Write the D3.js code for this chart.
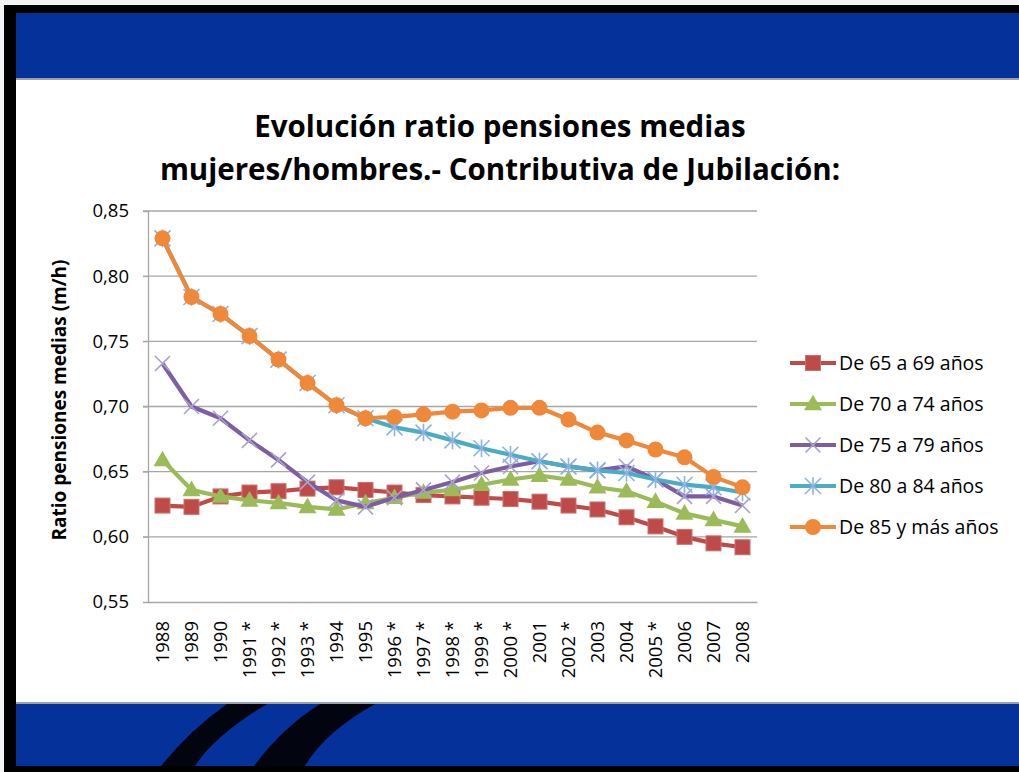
<!DOCTYPE html>
<html><head><meta charset="utf-8">
<script src="https://cdn.jsdelivr.net/npm/d3@7"></script>
<style>html,body{margin:0;padding:0;background:#fff;}svg{display:block;}</style>
</head><body>
<svg id="c" width="1019" height="772"></svg>
<script>
const years = ["1988","1989","1990","1991 *","1992 *","1993 *","1994","1995","1996 *","1997 *","1998 *","1999 *","2000 *","2001","2002 *","2003","2004","2005 *","2006","2007","2008"];
const s6569 = [0.624,0.623,0.631,0.634,0.635,0.637,0.638,0.636,0.634,0.632,0.631,0.630,0.629,0.627,0.624,0.621,0.615,0.608,0.600,0.595,0.592];
const s7074 = [0.659,0.636,0.631,0.628,0.626,0.623,0.621,0.626,0.630,0.634,0.636,0.640,0.644,0.647,0.644,0.638,0.635,0.627,0.618,0.613,0.608];
const s7579 = [0.733,0.700,0.691,0.674,0.659,0.642,0.628,0.623,0.630,0.636,0.642,0.649,0.654,0.658,0.654,0.651,0.654,0.644,0.631,0.631,0.624];
const s8084 = [0.829,0.784,0.771,0.754,0.736,0.718,0.701,0.691,0.684,0.680,0.674,0.668,0.663,0.658,0.654,0.651,0.649,0.644,0.640,0.638,0.634];
const s85 = [0.829,0.784,0.771,0.754,0.736,0.718,0.701,0.691,0.692,0.694,0.696,0.697,0.699,0.699,0.690,0.680,0.674,0.667,0.661,0.646,0.638];
const seriesNames = ["De 65 a 69 años","De 70 a 74 años","De 75 a 79 años","De 80 a 84 años","De 85 y más años"];
const yTicks = [0.55,0.60,0.65,0.70,0.75,0.80,0.85];
const titleLines = ["Evolución ratio pensiones medias","mujeres/hombres.- Contributiva de Jubilación:"];
const yLabel = "Ratio pensiones medias (m/h)";

const series = [
  {name:seriesNames[0], values:s6569, color:"#BE4B48", mark:"square", mcolor:"#BE4B48"},
  {name:seriesNames[1], values:s7074, color:"#9BBB59", mark:"triangle", mcolor:"#9BBB59"},
  {name:seriesNames[2], values:s7579, color:"#7E5DA3", mark:"x", mcolor:"#A9A2CC"},
  {name:seriesNames[3], values:s8084, color:"#4BACC6", mark:"star", mcolor:"#8DB3E2"},
  {name:seriesNames[4], values:s85, color:"#F0883A", mark:"circle", mcolor:"#F0883A"}
];

const svg = d3.select("#c");
const FONT = "'Open Sans', 'Noto Sans', sans-serif";

// slide background
svg.append("rect").attr("x",0).attr("y",0).attr("width",1019).attr("height",772).attr("fill","#f4f4f4");
svg.append("rect").attr("x",4).attr("y",5).attr("width",1015).attr("height",767).attr("fill","#000");
svg.append("rect").attr("x",16).attr("y",13).attr("width",1003).attr("height",65).attr("fill","#04329A");
svg.append("rect").attr("x",16).attr("y",78).attr("width",1003).attr("height",2).attr("fill","#9a9fae");
svg.append("rect").attr("x",16).attr("y",80).attr("width",1003).attr("height",622).attr("fill","#fff");
svg.append("rect").attr("x",16).attr("y",702).attr("width",1003).attr("height",2).attr("fill","#9a9fae");
svg.append("rect").attr("x",16).attr("y",704).attr("width",1003).attr("height",62).attr("fill","#04329A");
// diagonal stripes
svg.append("path").attr("d","M227,704 L267,704 Q215,735 195,766 L161,766 Q190,730 227,704 Z").attr("fill","#02040f");
svg.append("path").attr("d","M320,704 L375,704 Q325,732 305,766 L254,766 Q282,728 320,704 Z").attr("fill","#02040f");

// scales
const x = d3.scaleBand().domain(years).range([148,757]);
const cx = d => x(d) + x.bandwidth()/2;
const y = d3.scaleLinear().domain([0.55,0.85]).range([602,211]);

// gridlines
const g = svg.append("g");
g.selectAll("line.grid").data(yTicks.filter(t=>t>0.55)).join("line")
  .attr("x1",143).attr("x2",757).attr("y1",d=>y(d)).attr("y2",d=>y(d))
  .attr("stroke","#A6A6A6").attr("stroke-width",1.3);

// axes
const yAxis = d3.axisLeft(y).tickValues(yTicks).tickSize(5).tickFormat(d=>d3.format(".2f")(d).replace(".",","));
const ya = svg.append("g").attr("transform","translate(148,0)").call(yAxis);
ya.select(".domain").attr("stroke","#A6A6A6").attr("stroke-width",1.3);
ya.selectAll(".tick line").attr("stroke","#A6A6A6");
ya.selectAll("text").attr("font-family",FONT).attr("font-size",18.5).attr("fill","#000").attr("x",-19);

const xAxis = d3.axisBottom(x).tickSize(0);
const xa = svg.append("g").attr("transform","translate(0,602)").call(xAxis);
xa.select(".domain").attr("stroke","#A6A6A6").attr("stroke-width",1.3);
xa.selectAll("text").attr("font-family",FONT).attr("font-size",18.5).attr("fill","#000")
  .attr("transform","rotate(-90)").attr("text-anchor","end").attr("x",-19).attr("y",0).attr("dy","0.35em");

// markers
function drawMarker(sel, type, color, px, py, size){
  const s = size;
  if(type==="square"){
    sel.append("rect").attr("x",px-s/2).attr("y",py-s/2).attr("width",s).attr("height",s)
      .attr("fill",color).attr("stroke","#c7736f").attr("stroke-width",1);
  } else if(type==="triangle"){
    sel.append("path").attr("d",`M${px},${py-s*0.62} L${px+s*0.6},${py+s*0.42} L${px-s*0.6},${py+s*0.42} Z`)
      .attr("fill",color);
  } else if(type==="circle"){
    sel.append("circle").attr("cx",px).attr("cy",py).attr("r",s/2).attr("fill",color);
  } else if(type==="x"){
    const h=s/2;
    sel.append("path").attr("d",`M${px-h},${py-h} L${px+h},${py+h} M${px-h},${py+h} L${px+h},${py-h}`)
      .attr("stroke",color).attr("stroke-width",1.6).attr("fill","none");
  } else if(type==="star"){
    const h=s/2;
    sel.append("path").attr("d",`M${px-h},${py-h} L${px+h},${py+h} M${px-h},${py+h} L${px+h},${py-h} M${px},${py-h*1.1} L${px},${py+h*1.1}`)
      .attr("stroke",color).attr("stroke-width",1.6).attr("fill","none");
  }
}
const sizes = {square:15, triangle:15, circle:16, x:15, star:16};

const line = d3.line().x((d,i)=>cx(years[i])).y(d=>y(d));
series.forEach(s=>{
  const sg = svg.append("g");
  sg.append("path").datum(s.values).attr("d",line).attr("fill","none")
    .attr("stroke",s.color).attr("stroke-width",4.2).attr("stroke-linejoin","round");
  s.values.forEach((v,i)=>drawMarker(sg, s.mark, s.mcolor, cx(years[i]), y(v), sizes[s.mark]));
});

// legend
const lg = svg.append("g");
series.forEach((s,i)=>{
  const ly = 363 + i*41;
  lg.append("line").attr("x1",790).attr("x2",836).attr("y1",ly).attr("y2",ly)
    .attr("stroke",s.color).attr("stroke-width",4.2);
  drawMarker(lg, s.mark, s.mcolor, 813, ly, sizes[s.mark]);
  lg.append("text").attr("x",839).attr("y",ly).attr("dy","0.35em")
    .attr("font-family",FONT).attr("font-size",19.5).attr("fill","#000").text(s.name);
});

// title
svg.append("g").selectAll("text").data(titleLines).join("text")
  .attr("x",500).attr("y",(d,i)=>137+i*43).attr("text-anchor","middle")
  .attr("font-family",FONT).attr("font-weight","bold").attr("font-size",29.5).attr("fill","#000")
  .text(d=>d);

// y label
svg.append("text").attr("transform","translate(66,400) rotate(-90)").attr("text-anchor","middle")
  .attr("font-family",FONT).attr("font-weight","bold").attr("font-size",19).attr("fill","#000").text(yLabel);
</script>
</body></html>
